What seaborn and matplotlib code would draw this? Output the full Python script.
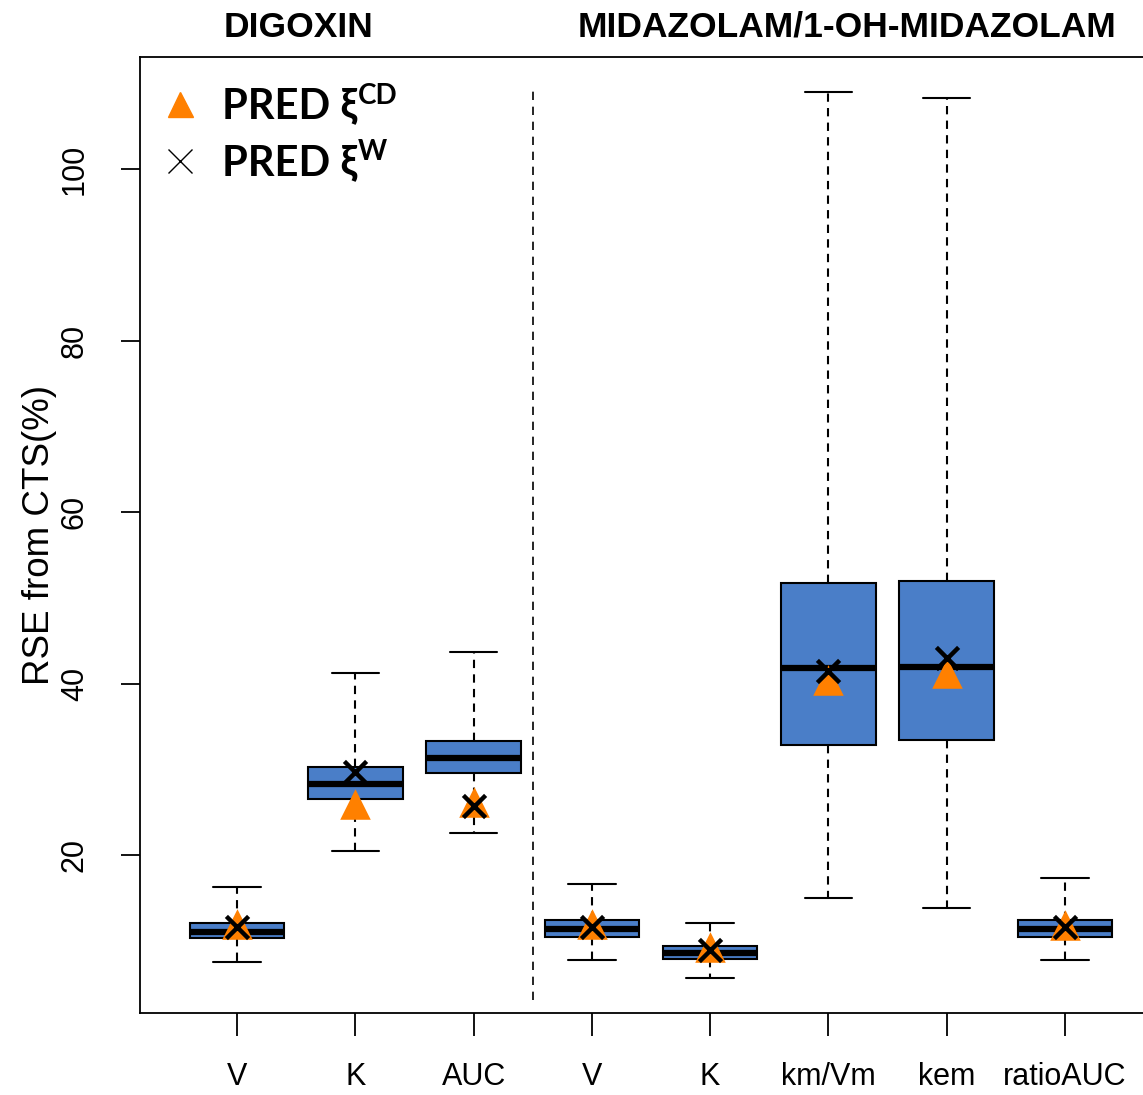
import matplotlib
matplotlib.use("Agg")
import matplotlib.pyplot as plt
import matplotlib.transforms as mtransforms
from matplotlib.lines import Line2D
import seaborn as sns
import pandas as pd

# Parameters (unique ids) and their axis labels
params = ["DIG_V", "DIG_K", "DIG_AUC", "MDZ_V", "MDZ_K", "MDZ_kmVm", "MDZ_kem", "MDZ_ratioAUC"]
tick_labels = ["V", "K", "AUC", "V", "K", "km/Vm", "kem", "ratioAUC"]

# Box summaries (RSE %)
whisk_lo = [7.5, 20.5, 22.6, 7.8, 5.7, 15.0, 13.9, 7.8]
q1 = [10.4, 26.6, 29.6, 10.5, 7.9, 32.8, 33.4, 10.5]
median = [11.1, 28.3, 31.3, 11.4, 8.6, 41.8, 41.9, 11.4]
q3 = [12.1, 30.3, 33.3, 12.4, 9.4, 51.7, 52.0, 12.4]
whisk_hi = [16.3, 41.3, 43.7, 16.6, 12.1, 109.0, 108.3, 17.3]

# Predicted RSE
pred_cd = [12.0, 26.0, 26.2, 12.0, 9.3, 40.4, 41.3, 11.9]
pred_w = [11.6, 29.7, 25.8, 11.6, 9.0, 41.5, 43.0, 11.6]

box_blue = "#4a7ec8"
tri_orange = "#ff8000"

rows = []
for i, p in enumerate(params):
    for v in (whisk_lo[i], q1[i], median[i], q3[i], whisk_hi[i]):
        rows.append({"param": p, "rse": v})
df = pd.DataFrame(rows)
pred = pd.DataFrame({"param": params, "cd": pred_cd, "w": pred_w})

sns.set_style("white")
plt.rcParams["font.family"] = ["Liberation Sans", "DejaVu Sans"]
plt.rcParams["text.color"] = "black"
plt.rcParams["axes.labelcolor"] = "black"
plt.rcParams["xtick.color"] = "black"
plt.rcParams["ytick.color"] = "black"

fig = plt.figure(figsize=(11.43, 10.95), dpi=100)
ax = fig.add_axes([140 / 1143, 82 / 1095, 1022 / 1143, 956 / 1095])

sns.boxplot(data=df, x="param", y="rse", order=params, whis=(0, 100),
            width=0.8, color=box_blue, saturation=1, linecolor="black",
            linewidth=1.5, showfliers=False,
            medianprops=dict(linewidth=4.5),
            whiskerprops=dict(linestyle=(0, (4, 3))),
            ax=ax)
sns.stripplot(data=pred, x="param", y="cd", order=params, jitter=False,
              marker="^", color=tri_orange, size=22, linewidth=0, zorder=5, ax=ax)
sns.stripplot(data=pred, x="param", y="w", order=params, jitter=False,
              marker="x", color="black", size=16, linewidth=3.2, zorder=6, ax=ax)

ax.vlines(2.5, 3.1, 109.4, colors="black", linestyles=(0, (5, 4)), linewidth=1.2)

ax.set_xlim(-0.82, 7.82)
ax.set_ylim(1.6, 113.1)
ax.set_xticks(range(len(params)))
ax.set_xticklabels(tick_labels, fontsize=22)
ax.set_yticks([20, 40, 60, 80, 100])
ax.set_yticklabels(["20", "40", "60", "80", "100"], fontsize=22, rotation=90, va="center")
ax.tick_params(axis="x", bottom=True, length=16.5, width=1.3, pad=19,
               color="black", labelcolor="black")
ax.tick_params(axis="y", left=True, length=14, width=1.3, pad=22,
               color="black", labelcolor="black")
ax.set_xlabel("")
ax.set_ylabel("RSE from CTS(%)", fontsize=26.5, labelpad=2, color="black")
for s in ax.spines.values():
    s.set_color("black")
    s.set_linewidth(1.3)

trans = mtransforms.blended_transform_factory(ax.transData, ax.transAxes)
ax.text(0.52, 1.031, "DIGOXIN", transform=trans, ha="center", va="center",
        fontsize=25.5, fontweight="bold", color="black")
ax.text(5.16, 1.031, "MIDAZOLAM/1-OH-MIDAZOLAM", transform=trans, ha="center",
        va="center", fontsize=25.5, fontweight="bold", color="black")

handles = [
    Line2D([], [], linestyle="none", marker="^", color=tri_orange, markersize=18),
    Line2D([], [], linestyle="none", marker="x", color="black", markersize=17,
           markeredgewidth=1.0),
]
leg = ax.legend(handles, ["PRED ξ", "PRED ξ"], loc="upper left",
                bbox_to_anchor=(0.0187, 0.968), frameon=False, borderpad=0,
                borderaxespad=0, handlelength=1.0, handletextpad=0.5,
                labelspacing=0.45, labelcolor="black",
                prop={"family": ["Lato", "DejaVu Sans"], "weight": "bold", "size": 30})

# superscripts after the xi
fig.canvas.draw()
renderer = fig.canvas.get_renderer()
for txt, sup in zip(leg.get_texts(), ["CD", "W"]):
    bb = txt.get_window_extent(renderer)
    fx, fy = fig.transFigure.inverted().transform((bb.x1 + 1, bb.y0 + 22))
    fig.text(fx, fy, sup, ha="left", va="baseline", color="black",
             fontsize=20, fontweight="bold", family=["Lato", "DejaVu Sans"])

fig.savefig("out.png", dpi=100)
